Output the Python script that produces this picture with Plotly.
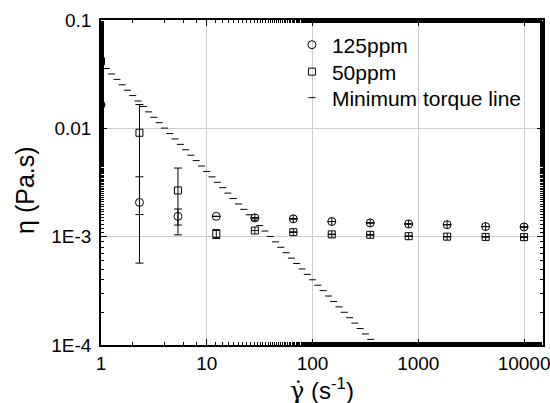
import plotly.graph_objects as go

# shear rates (s^-1)
shear_rate = [1, 2.31, 5.34, 12.3, 28.5, 65.8, 152, 351, 811, 1874, 4329, 10000]

# viscosity, 125 ppm
eta_125 = [0.0165, 0.00207, 0.00154, 0.00154, 0.00149, 0.00146, 0.00138, 0.00134, 0.00131, 0.00129, 0.00124, 0.00123]
err_125 = [0, 0.0015, 0.00026, 0.000005, 0, 0, 0, 0, 0, 0, 0, 0]

# viscosity, 50 ppm
eta_50 = [0.0416, 0.0091, 0.00267, 0.00106, 0.00114, 0.00110, 0.00105, 0.00104, 0.00101, 0.00100, 0.000995, 0.00099]
err_50 = [0, 0.0075, 0.00163, 0.0001, 0, 0, 0, 0, 0, 0, 0, 0]

# minimum torque line
torque_x = [1.000, 1.122, 1.259, 1.413, 1.585, 1.778, 1.995, 2.239, 2.512, 2.818,
            3.162, 3.548, 3.981, 4.467, 5.012, 5.623, 6.310, 7.079, 7.943, 8.913,
            10.00, 11.22, 12.59, 14.13, 15.85, 17.78, 19.95, 22.39, 25.12, 28.18,
            31.62, 35.48, 39.81, 44.67, 50.12, 56.23, 63.10, 70.79, 79.43, 89.13,
            100.0, 112.2, 125.9, 141.3, 158.5, 177.8, 199.5, 223.9, 251.2, 281.8,
            316.2, 354.8, 398.1]
torque_y = [0.04000, 0.03565, 0.03177, 0.02832, 0.02524, 0.02249, 0.02005, 0.01787, 0.01592, 0.01419,
            0.01265, 0.01127, 0.01005, 0.008955, 0.007981, 0.007113, 0.006340, 0.005650, 0.005036, 0.004488,
            0.004000, 0.003565, 0.003177, 0.002832, 0.002524, 0.002249, 0.002005, 0.001787, 0.001592, 0.001419,
            0.001265, 0.001127, 0.001005, 0.0008955, 0.0007981, 0.0007113, 0.0006340, 0.0005650, 0.0005036, 0.0004488,
            0.0004000, 0.0003565, 0.0003177, 0.0002832, 0.0002524, 0.0002249, 0.0002005, 0.0001787, 0.0001592, 0.0001419,
            0.0001265, 0.0001127, 0.0001005]

x_tickvals = [1, 10, 100, 1000, 10000]
x_ticktext = ["1", "10", "100", "1000", "10000"]
y_tickvals = [0.0001, 0.001, 0.01, 0.1]
y_ticktext = ["1E-4", "1E-3", "0.01", "0.1"]

sym_125 = ["circle-open"] * 4 + ["circle-cross-open"] * 8
sym_50 = ["square-open"] * 4 + ["square-cross-open"] * 8

FONT = "Liberation Sans, Arial, sans-serif"

fig = go.Figure()
fig.add_trace(go.Scatter(
    x=shear_rate, y=eta_125, mode="markers", name="125ppm", legend="legend",
    marker=dict(symbol=sym_125, size=8, color="black", line=dict(width=1, color="black")),
    error_y=dict(type="data", array=err_125, color="black", thickness=1, width=4),
))
fig.add_trace(go.Scatter(
    x=shear_rate, y=eta_50, mode="markers", name="50ppm", legend="legend2",
    marker=dict(symbol=sym_50, size=7, color="black", line=dict(width=1, color="black")),
    error_y=dict(type="data", array=err_50, color="black", thickness=1, width=4),
))
fig.add_trace(go.Scatter(
    x=torque_x, y=torque_y, mode="markers", name="Minimum torque line", legend="legend3",
    marker=dict(symbol="line-ew-open", size=5, color="black", line=dict(width=1, color="black")),
))

axis_common = dict(
    showline=True, linecolor="black", linewidth=1.5, mirror="allticks",
    ticks="inside", ticklen=6, tickwidth=1, tickcolor="black",
    showgrid=True, gridcolor="#cccccc", gridwidth=1, zeroline=False,
    automargin=False, ticklabeloverflow="allow",
    tickfont=dict(family=FONT, size=19, color="black"),
    minor=dict(ticks="inside", ticklen=3, tickwidth=1, tickcolor="black", showgrid=False),
)

fig.update_xaxes(type="log", range=[0, 4.179], tickvals=x_tickvals, ticktext=x_ticktext,
                 **axis_common)
fig.update_yaxes(type="log", range=[-4, -1], tickvals=y_tickvals, ticktext=y_ticktext,
                 ticklabelstandoff=4, **axis_common)

fig.add_annotation(
    text="<span style=\"font-family:'DejaVu Serif'\">\u03b3\u0307</span> (s<sup>-1</sup>)",
    xref="paper", yref="paper", x=0.5, y=-0.136, xanchor="center", yanchor="middle",
    showarrow=False, font=dict(family=FONT, size=24, color="black"),
)
fig.add_annotation(
    text="\u03b7 (Pa.s)", textangle=-90,
    xref="paper", yref="paper", x=-0.172, y=0.477, xanchor="center", yanchor="middle",
    showarrow=False, font=dict(family=FONT, size=25, color="black"),
)

leg_common = dict(x=0.432, xanchor="left", yanchor="middle",
                  bgcolor="rgba(0,0,0,0)", borderwidth=0,
                  font=dict(family=FONT, size=21, color="black"))

fig.update_layout(
    width=550, height=403,
    margin=dict(l=101, r=7, t=20, b=58),
    paper_bgcolor="white", plot_bgcolor="white",
    font=dict(family=FONT, color="black"),
    showlegend=True,
    legend=dict(y=0.923, **leg_common),
    legend2=dict(y=0.840, **leg_common),
    legend3=dict(y=0.760, **leg_common),
)

fig.write_html("out.html", config={"displayModeBar": False},
               post_script="document.body.style.margin='0';")
